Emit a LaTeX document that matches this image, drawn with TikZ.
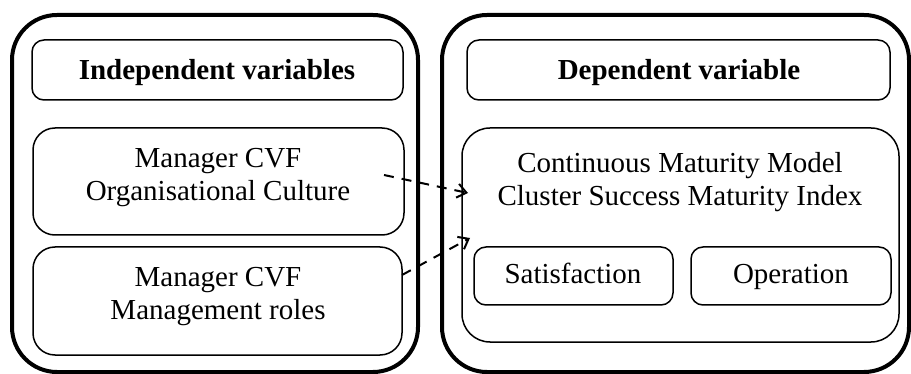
\documentclass[tikz,border=0pt]{standalone}
\usepackage{fontspec}
\setmainfont{Liberation Serif}
\usetikzlibrary{arrows.meta,calc}
\begin{document}
\begin{tikzpicture}[x=1pt,y=-1pt,
  outerbox/.style={draw,line width=4pt,rounded corners=45pt},
  innerbox/.style={draw,line width=1.5pt,rounded corners=#1},
  innerbox/.default=12pt,
  lbl/.style={font=\fontsize{29}{33}\selectfont,align=center},
  blbl/.style={font=\fontsize{29}{33}\selectfont\bfseries,align=center},
  dasharrow/.style={line width=2pt,dash pattern=on 10pt off 8pt,-{Straight Barb[length=9pt,width=14pt,line width=2pt]}}]
\useasboundingbox (0,0) rectangle (911,374);
% outer containers
\draw[outerbox] (12,15) rectangle (418,372);
\draw[outerbox] (442,15) rectangle (909,372);
% left column
\draw[innerbox] (32,40) rectangle (403,100);
\node[blbl,anchor=base] (ih) at (217,80) {Independent variables};
\draw[innerbox=22pt] (33,128) rectangle (404,235);
\coordinate (b2) at (404,175);
\node[lbl] (oc) at (218,178) {Manager CVF\\Organisational Culture};
\draw[innerbox=22pt] (33,247) rectangle (402,355);
\coordinate (b3) at (402,275);
\node[lbl] (mr) at (218,297) {Manager CVF\\Management roles};
% right column
\draw[innerbox] (467,40) rectangle (890,100);
\node[blbl,anchor=base] (dh) at (679,80) {Dependent variable};
\draw[innerbox=28pt] (462,128) rectangle (899,342);
\coordinate (t1) at (468,193);
\coordinate (t2) at (470,238);
\node[lbl] (cm) at (680,182) {Continuous Maturity Model\\Cluster Success Maturity Index};
\draw[innerbox] (474,247) rectangle (673,305);
\node[lbl,anchor=base] (sa) at (573,284) {Satisfaction};
\draw[innerbox] (691,247) rectangle (891,305);
\node[lbl,anchor=base] (op) at (791,284) {Operation};
% connectors
\draw[dasharrow] ($(b2)+(-20,0)$) -- (t1);
\draw[dasharrow] (b3) -- (t2);
\end{tikzpicture}
\end{document}
